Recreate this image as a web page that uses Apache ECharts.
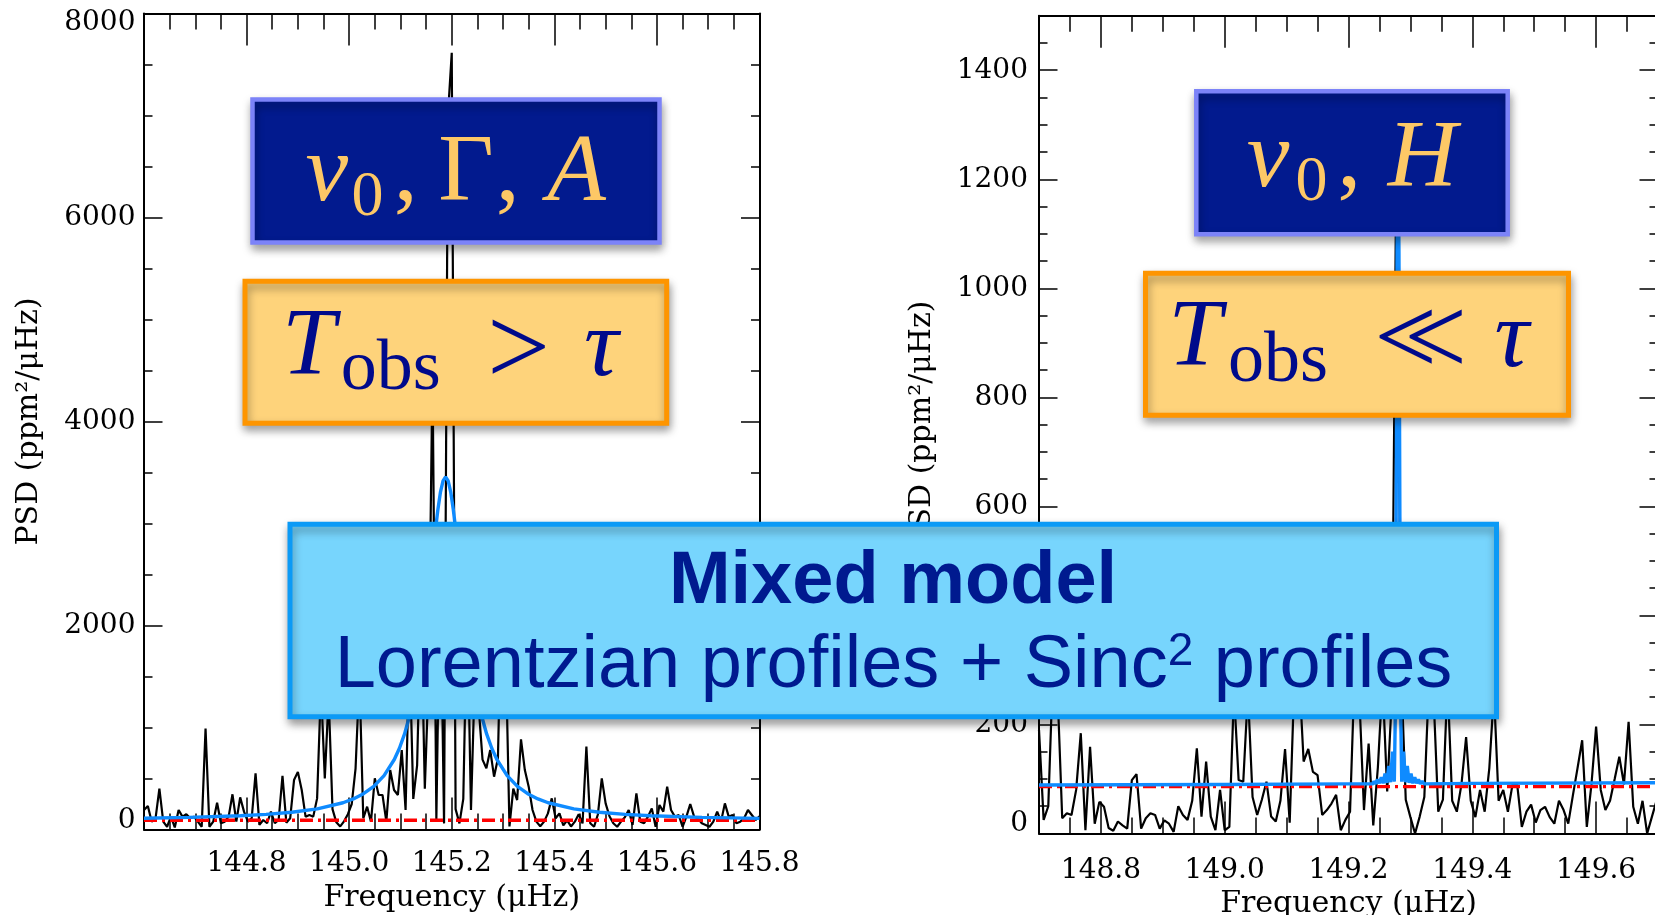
<!DOCTYPE html>
<html><head><meta charset="utf-8">
<script src="https://cdn.jsdelivr.net/npm/echarts@6/dist/echarts.min.js"></script>
<style>html,body{margin:0;padding:0;background:#fff}#c{width:1655px;height:915px}</style>
</head><body><div id="c"></div>
<script>
// ---------- data ----------
const freqStartL = 144.6, freqStepL = 0.0075;
const psdLeft = [190,230,77,110,400,77,27,126,20,191,
 126,150,110,126,77,27,990,27,77,263,
 61,77,126,345,77,315,175,77,110,551,
 45,93,61,175,61,93,527,67,110,485,
 565,387,126,142,126,305,1400,500,1300,200,
 70,30,80,150,250,600,1500,110,224,77,
 502,338,338,77,583,387,338,779,191,1800,
 300,632,2200,400,1500,4500,100,2600,60,7000,
 7615,200,60,300,2200,191,1500,1200,685,600,
 779,518,697,2400,1800,30,400,289,884,583,
 420,191,77,32,77,158,305,110,158,40,
 90,30,77,150,60,812,61,27,150,502,
 256,130,61,27,77,120,191,45,354,77,
 61,126,207,27,240,175,420,191,126,142,
 27,126,250,126,110,61,45,27,77,175,
 77,256,126,142,61,77,110,191,142,93,
 130];
const modelFreqL = [144.600,144.688,144.788,144.838,144.888,144.938,144.988,145.008,145.028,145.048,145.068,145.088,145.098,145.108,145.118,145.128,145.138,145.143,145.148,145.153,145.158,145.163,145.168,145.173,145.178,145.183,145.188,145.193,145.198,145.203,145.208,145.213,145.218,145.223,145.228,145.233,145.238,145.248,145.258,145.268,145.278,145.288,145.308,145.328,145.348,145.368,145.388,145.438,145.488,145.538,145.588,145.688,145.800];
const modelPsdL = [111,119,135,148,169,202,262,300,351,423,528,686,797,937,1118,1350,1648,1825,2022,2236,2464,2700,2929,3138,3308,3418,3457,3418,3308,3138,2929,2700,2464,2236,2022,1825,1648,1350,1118,937,797,686,528,423,351,300,262,202,169,148,135,119,109];
const noiseL = 90;

const freqStartR = 148.7, freqStepR = 0.0075;
const psdRight = [190,25,50,300,260,28,37,34,80,184,
 6,159,18,58,49,10,5,22,15,9,
 98,109,9,28,37,34,9,24,18,3,
 50,34,25,60,156,31,132,31,6,80,
 6,12,260,98,95,260,67,34,62,95,
 31,22,60,155,20,280,300,132,155,113,
 107,34,43,55,71,6,25,40,300,250,
 43,165,15,122,280,77,250,1250,300,62,
 30,0,31,67,280,250,40,62,280,60,
 40,90,177,60,30,80,40,120,260,60,
 80,40,90,90,12,40,53,20,43,49,
 30,18,60,43,18,70,120,171,12,90,
 196,80,43,60,100,141,90,205,49,18,
 60,0,30,60];
const modelFreqR = [148.700,149.000,149.200,149.240,149.241,149.244,149.247,149.250,149.253,149.256,149.259,149.262,149.265,149.268,149.271,149.274,149.2755,149.277,149.2785,149.280,149.2815,149.283,149.2845,149.286,149.289,149.292,149.295,149.298,149.301,149.304,149.307,149.310,149.313,149.316,149.319,149.322,149.400,149.700];
const modelPsdR = [89,90,91,91,96,91,99,92,103,92,110,93,124,94,150,95,210,580,1069,1300,1069,580,210,95,150,94,124,93,110,92,103,92,99,91,96,91,92,93];
const noiseR = 86;

const xLabelsR = [148.8, 149.0, 149.2, 149.4, 149.6];

// ---------- styling ----------
const serif = "DejaVu Serif";
const mathFont = "Liberation Serif";
const sans = "Liberation Sans";
const black = '#000';
const tickStyle = {color: black, width: 1.5};
const lineAx = {show: true, onZero: false, lineStyle: {color: black, width: 2}};
const noLine = {show: false, onZero: false};
const lblBase = {fontFamily: serif, fontSize: 28, color: black};
const nameBase = {fontFamily: serif, fontSize: 30, color: black};

function pairs(start, step, arr) { return arr.map((v, i) => [+(start + i * step).toFixed(4), v]); }
function zip(a, b) { return a.map((f, i) => [f, b[i]]); }

const chart = echarts.init(document.getElementById('c'), null, {renderer: 'canvas'});

const xL = (pos, labels) => ({
  type: 'value', gridIndex: 0, position: pos, min: 144.6, max: 145.8, interval: 0.2,
  axisLine: lineAx, splitLine: {show: false},
  axisTick: {show: true, inside: true, length: 32, lineStyle: tickStyle},
  minorTick: {show: true, splitNumber: 4, length: 16, lineStyle: tickStyle},
  axisLabel: labels ? Object.assign({show: true, showMinLabel: false, margin: 20, formatter: v => v.toFixed(1)}, lblBase) : {show: false},
  name: labels ? 'Frequency (μHz)' : '', nameLocation: 'middle', nameGap: 54,
  nameTextStyle: nameBase
});
const yL = (pos, labels) => ({
  type: 'value', gridIndex: 0, position: pos, min: 0, max: 8000, interval: 2000,
  axisLine: lineAx, splitLine: {show: false},
  axisTick: {show: true, inside: true, length: 18.5, lineStyle: tickStyle},
  minorTick: {show: true, splitNumber: 4, length: 8.5, lineStyle: tickStyle},
  axisLabel: labels ? {show: true, margin: 8.5,
    formatter: v => v === 0 ? '{lo|0}' : (v === 8000 ? '{hi|8000}' : '{n|' + v + '}'),
    rich: {n: lblBase, lo: Object.assign({padding: [0, 0, 17, 0]}, lblBase), hi: Object.assign({padding: [18, 0, 0, 0]}, lblBase)}} : {show: false},
  name: labels ? 'PSD (ppm²/μHz)' : '', nameLocation: 'middle', nameGap: 100, nameRotate: 90,
  nameTextStyle: nameBase
});
const xRmaj = (pos, labels) => ({
  type: 'value', gridIndex: 1, position: pos, min: 148.7, max: 149.7,
  axisLine: lineAx, splitLine: {show: false},
  axisTick: {show: true, inside: true, length: 32, lineStyle: tickStyle, customValues: xLabelsR},
  axisLabel: labels ? Object.assign({show: true, margin: 23, customValues: xLabelsR, formatter: v => v.toFixed(1)}, lblBase) : {show: false},
  name: labels ? 'Frequency (μHz)' : '', nameLocation: 'middle', nameGap: 53,
  nameTextStyle: nameBase
});
const xRmin = (pos) => ({
  type: 'value', gridIndex: 1, position: pos, min: 148.7, max: 149.7, interval: 0.05,
  axisLine: noLine, splitLine: {show: false}, axisLabel: {show: false},
  axisTick: {show: true, inside: true, length: 16, lineStyle: tickStyle}
});
const yRmaj = (pos, labels) => ({
  type: 'value', gridIndex: 1, position: pos, min: 0, max: 1500, interval: 200,
  axisLine: lineAx, splitLine: {show: false},
  axisTick: {show: true, inside: true, length: 18.5, lineStyle: tickStyle},
  axisLabel: labels ? {show: true, margin: 11, showMaxLabel: false,
    formatter: v => v === 0 ? '{lo|0}' : '{n|' + v + '}',
    rich: {n: lblBase, lo: Object.assign({padding: [0, 0, 19, 0]}, lblBase)}} : {show: false},
  name: labels ? 'PSD (ppm²/μHz)' : '', nameLocation: 'middle', nameGap: 102, nameRotate: 90,
  nameTextStyle: nameBase
});
const yRmin = (pos) => ({
  type: 'value', gridIndex: 1, position: pos, min: 0, max: 1500, interval: 50,
  axisLine: noLine, splitLine: {show: false}, axisLabel: {show: false},
  axisTick: {show: true, inside: true, length: 8.5, lineStyle: tickStyle}
});

const shadow = {shadowBlur: 9, shadowOffsetX: 1, shadowOffsetY: 5, shadowColor: 'rgba(0,0,0,0.35)'};
function box(x, y, w, h, fill, stroke, lw) {
  return {type: 'rect', z: 100, shape: {x: x, y: y, width: w, height: h},
    style: Object.assign({fill: fill, stroke: stroke, lineWidth: lw}, shadow)};
}
function txt(x, y, s, size, italic, color, family) {
  return {type: 'text', z: 101, x: x, y: y,
    style: {text: s, fontSize: size, fontFamily: family || mathFont, fontStyle: italic ? 'italic' : 'normal',
      fill: color, textAlign: 'left', textVerticalAlign: 'middle', align: 'left', verticalAlign: 'middle'}};
}
const navyBox = '#021a8e', navyEdge = '#7c83f8', gold = '#fdc866';
const orangeBox = '#fed37b', orangeEdge = '#fe9500', navyTxt = '#000a8b';
const M = 96, S = 64, OBS = 72, REL = 112;

const graphics = [
  box(252.5, 99.6, 407, 143, navyBox, navyEdge, 4.5),
  box(245, 281.2, 421.7, 142, orangeBox, orangeEdge, 5),
  box(1196.3, 91.3, 311.4, 143, navyBox, navyEdge, 4.5),
  box(1145.5, 273.2, 423, 142, orangeBox, orangeEdge, 5),
  box(290, 524.2, 1206.5, 192.6, '#77d5fd', '#0b9af6', 5),
  // left blue box: nu_0, Gamma, A
  txt(305.5, 174.6, 'ν', M, true, gold),
  txt(351.5, 197.9, '0', S, false, gold),
  txt(393.8, 174.6, ',', M, false, gold),
  txt(438.3, 174.6, 'Γ', M, false, gold),
  txt(495.8, 174.6, ',', M, false, gold),
  txt(547.3, 174.6, 'A', M, true, gold),
  // left orange box: T_obs > tau
  txt(282, 349.1, 'T', M, true, navyTxt),
  txt(340.8, 370.2, 'obs', OBS, false, navyTxt),
  txt(487, 355, '>', REL, false, navyTxt),
  txt(584, 350, 'τ', M, true, navyTxt),
  // right blue box: nu_0, H
  txt(1246.7, 160.3, 'ν', M, true, gold),
  txt(1295.4, 183.4, '0', S, false, gold),
  txt(1337.3, 160.3, ',', M, false, gold),
  txt(1387.7, 160.3, 'H', M, true, gold),
  // right orange box: T_obs << tau
  txt(1168.3, 340.1, 'T', M, true, navyTxt),
  txt(1227.9, 361.7, 'obs', OBS, false, navyTxt),
  txt(1374, 345, '<', REL, false, navyTxt),
  txt(1404, 345, '<', REL, false, navyTxt),
  txt(1494.5, 340.3, 'τ', M, true, navyTxt),
  // mixed model box
  {type: 'text', z: 101, x: 893, y: 582.7,
   style: {text: 'Mixed model', fontSize: 74, fontWeight: 'bold', fontFamily: sans, fill: '#001a8f', textAlign: 'center', textVerticalAlign: 'middle', align: 'center', verticalAlign: 'middle'}},
  {type: 'text', z: 101, x: 893.5, y: 666.7,
   style: {text: '{a|Lorentzian profiles + Sinc}{s|2}{a| profiles}', fill: '#001a8f',
     textAlign: 'center', textVerticalAlign: 'middle', align: 'center', verticalAlign: 'middle',
     rich: {a: {fontFamily: sans, fontSize: 74, lineHeight: 74, fill: '#001a8f', color: '#001a8f'},
            s: {fontFamily: sans, fontSize: 46, lineHeight: 46, verticalAlign: 'top', fill: '#001a8f', color: '#001a8f'}}}}
];

const blue = '#0f8bff';
const redStyle = {color: '#ff0000', width: 3.4, type: [13, 5, 3, 5]};
chart.setOption({
  animation: false,
  backgroundColor: '#fff',
  grid: [
    {left: 144, top: 13.5, width: 615.5, height: 816, containLabel: false, outerBoundsMode: 'none'},
    {left: 1039, top: 15.7, width: 619, height: 817.8, containLabel: false, outerBoundsMode: 'none'}
  ],
  xAxis: [xL('bottom', true), xL('top', false), xRmaj('bottom', true), xRmin('bottom'), xRmaj('top', false), xRmin('top')],
  yAxis: [yL('left', true), yL('right', false), yRmaj('left', true), yRmin('left'), yRmaj('right', false), yRmin('right')],
  series: [
    {type: 'line', xAxisIndex: 0, yAxisIndex: 0, data: pairs(freqStartL, freqStepL, psdLeft), showSymbol: false, lineStyle: {color: black, width: 2.2}, z: 2},
    {type: 'line', xAxisIndex: 0, yAxisIndex: 0, data: [[144.6, noiseL], [145.8, noiseL]], showSymbol: false, lineStyle: redStyle, z: 3},
    {type: 'line', xAxisIndex: 0, yAxisIndex: 0, data: zip(modelFreqL, modelPsdL), showSymbol: false, lineStyle: {color: blue, width: 3.4}, z: 4},
    {type: 'line', xAxisIndex: 2, yAxisIndex: 2, data: pairs(freqStartR, freqStepR, psdRight), showSymbol: false, lineStyle: {color: black, width: 2.2}, z: 2},
    {type: 'line', xAxisIndex: 2, yAxisIndex: 2, data: [[148.7, noiseR], [149.7, noiseR]], showSymbol: false, lineStyle: redStyle, z: 3},
    {type: 'line', xAxisIndex: 2, yAxisIndex: 2, data: zip(modelFreqR, modelPsdR), showSymbol: false, lineStyle: {color: blue, width: 3.4}, z: 4}
  ],
  graphic: {elements: graphics}
});
</script>
</body></html>
